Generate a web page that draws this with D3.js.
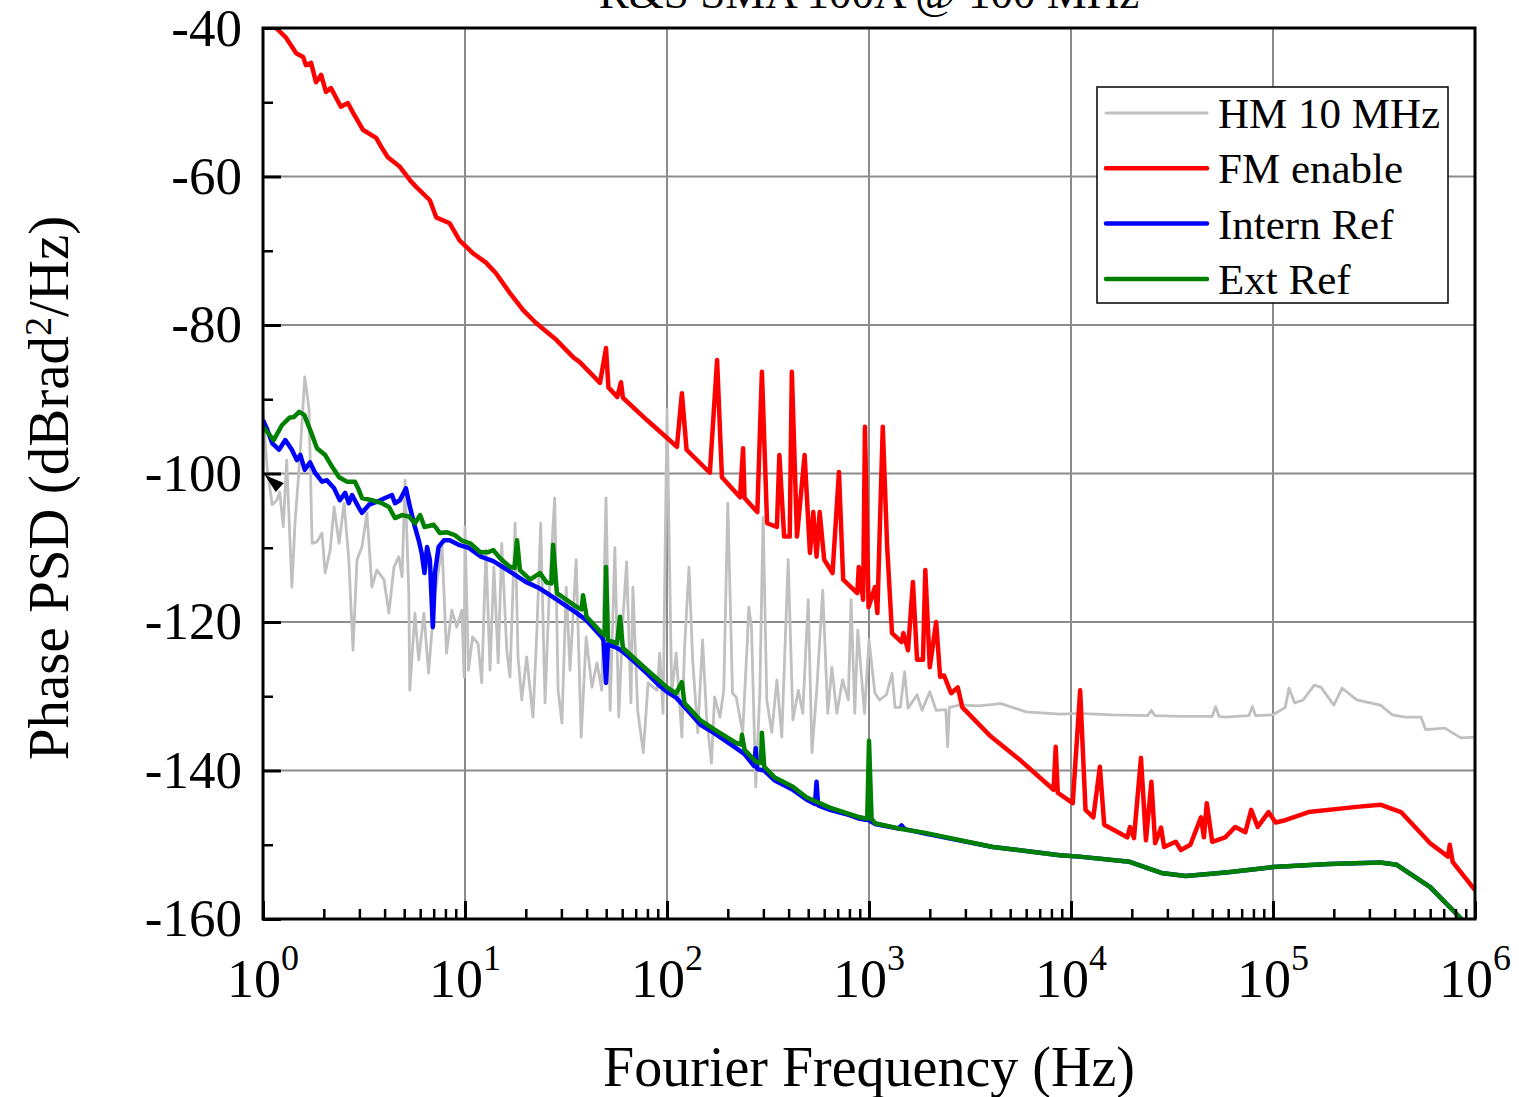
<!DOCTYPE html>
<html>
<head>
<meta charset="utf-8">
<script src="https://cdn.jsdelivr.net/npm/d3@7"></script>
<style>
  body { margin: 0; background: #fff; }
  svg { display: block; font-family: "Liberation Serif", "Times New Roman", serif; }
  .tick line { stroke: #000; }
</style>
</head>
<body>
<svg id="chart"></svg>
<script>
// series: [frequency (Hz), phase PSD (dBrad^2/Hz)]
const seriesNames = ["HM 10 MHz", "FM enable", "Intern Ref", "Ext Ref"];
const seriesColors = ["#c0c0c0", "#ff0000", "#0000ff", "#008000"];

const hm10 = [
  [1.0,-91.9],[1.05,-99.5],[1.11,-104.2],[1.17,-103.6],[1.21,-102.5],[1.26,-107.2],[1.31,-98.2],[1.39,-115.3],
  [1.44,-106.7],[1.52,-98.2],[1.61,-87.0],[1.69,-91.4],[1.75,-109.4],[1.85,-109.2],[1.96,-108.0],[2.03,-113.4],
  [2.15,-110.3],[2.25,-104.5],[2.38,-109.4],[2.52,-104.0],[2.66,-111.6],[2.79,-123.8],[2.92,-111.6],[3.09,-109.9],
  [3.27,-105.3],[3.46,-115.3],[3.66,-113.0],[3.97,-114.3],[4.2,-118.8],[4.45,-112.6],[4.7,-111.2],[4.88,-113.9],
  [5.05,-100.9],[5.27,-116.1],[5.33,-129.2],[5.65,-118.8],[5.9,-125.1],[6.26,-118.8],[6.6,-126.9],[7.1,-116.1],
  [7.7,-109.9],[8.1,-124.2],[8.6,-118.4],[9.1,-120.7],[9.65,-118.4],[9.9,-127.4],[10.0,-107.2],[10.4,-126.5],
  [10.9,-122],[11.6,-122.9],[12.1,-128.2],[12.7,-110.3],[13.3,-126.5],[13.9,-112.6],[14.6,-125.5],[15.2,-109.4],
  [16.1,-123.8],[16.7,-127.4],[17.7,-106.7],[18.3,-124.7],[19.1,-130.5],[20.2,-124.7],[21.7,-132.8],[22.7,-121.1],
  [23.7,-106.7],[24.9,-130.9],[26.2,-115.3],[27.8,-103.3],[28.9,-129.2],[30.2,-133.6],[31.7,-115.3],[33.1,-126.5],
  [35.5,-111.6],[37.6,-135.5],[39.8,-122],[42.5,-128.8],[45,-125.5],[47.5,-129.2],[49.9,-103.3],[52.3,-131.9],
  [55.2,-110.0],[57.7,-132.8],[60.5,-119.7],[63.1,-111.9],[66.3,-130.9],[67.8,-115.3],[71.6,-131.9],[76.3,-137.6],
  [80.6,-128.2],[89.4,-129.2],[92,-124.2],[95.6,-132.3],[100,-91.4],[105.5,-129.6],[111,-124.2],[118.5,-135.5],
  [122,-123.8],[128.5,-112.6],[134,-125.1],[142,-134.9],[150,-122.4],[157,-132.8],[166,-139],[172,-130.1],
  [183,-132.8],[191,-129.2],[200,-104],[211,-129.6],[220,-130.1],[237,-134.9],[250,-122.4],[254,-118],
  [262,-120.7],[275,-142.2],[288,-129.6],[299,-105.9],[312,-130.5],[330,-134.9],[350,-127.8],[370,-135.5],
  [398,-111.6],[420,-133.2],[447,-129.2],[470,-132.3],[500,-117],[522,-137.6],[551,-129.2],[590,-115.7],
  [625,-132.3],[655,-126.1],[693,-132.3],[740,-127.8],[790,-130.5],[815,-117],[850,-132.3],[880,-121.1],
  [950,-132.3],[1000,-122.4],[1070,-129.6],[1130,-130.5],[1220,-129.8],[1300,-126.9],[1345,-131.5],[1430,-131.5],
  [1500,-126.7],[1560,-131.6],[1730,-129.8],[1830,-131.9],[2000,-129.4],[2150,-131.9],[2400,-131.8],[2450,-136.8],
  [2500,-131.5],[2800,-131.2],[3500,-131.3],[4500,-131],[6000,-132.1],[8800,-132.4],[11000,-132.3],[16000,-132.5],
  [24000,-132.6],[25000,-131.9],[26000,-132.6],[35000,-132.7],[50000,-132.7],[52000,-131.4],[54000,-132.7],
  [58000,-132.8],[76000,-132.6],[79000,-131.4],[82000,-132.6],[100000,-132.5],[115000,-131.5],[120000,-128.9],
  [128000,-130.9],[141000,-130.5],[160000,-128.5],[173000,-128.8],[200000,-131.2],[220000,-128.9],[260000,-130.5],
  [340000,-131.2],[390000,-132.5],[450000,-132.8],[540000,-132.8],[570000,-134.5],[710000,-134.3],[850000,-135.6],
  [1000000,-135.5]
];

const fmEnable = [
  [1,-38.3],[1.16,-40],[1.30,-41.3],[1.46,-43.4],[1.58,-43.9],[1.63,-45],[1.73,-44.7],[1.83,-47.3],[1.94,-46.3],
  [2.05,-48.6],[2.17,-48.1],[2.43,-50.6],[2.63,-50.1],[2.79,-51.4],[3.12,-53.7],[3.63,-54.8],[3.93,-56.4],
  [4.15,-57.4],[4.76,-58.7],[5.34,-60.5],[5.73,-61.4],[6.7,-63.2],[7.2,-65.5],[8.4,-66.3],[9.4,-68.6],
  [10.9,-70.3],[12.7,-71.6],[14.2,-73],[16.7,-75.7],[19.4,-78],[22.4,-79.7],[28.3,-82],[34.2,-84.3],[37,-85],
  [46.6,-87.8],[49.9,-83.1],[51.3,-88.4],[56.7,-89.7],[59.2,-87.7],[60.5,-89.8],[79.5,-92.8],[112,-96.4],
  [118.5,-89.2],[125,-96.8],[163,-99.9],[177,-84.7],[187,-100.5],[230,-103.2],[238,-96.6],[242,-103.3],
  [280,-105.2],[295,-86.3],[313,-106.7],[350,-107.2],[360,-97.5],[380,-108.5],[405,-108.5],[415,-86.3],
  [440,-108.5],[480,-97.5],[510,-110.7],[530,-105.2],[550,-111.2],[570,-105.2],[600,-111.6],[660,-113.4],
  [710,-99.8],[745,-114.3],[875,-116.1],[890,-112.6],[935,-117],[955,-93.7],[995,-118],[1070,-115.3],
  [1100,-118.8],[1170,-93.7],[1230,-109.9],[1300,-121.5],[1450,-122.7],[1480,-121.5],[1560,-123.8],
  [1650,-114.6],[1730,-125.1],[1850,-125.1],[1900,-113],[2000,-126.1],[2150,-120],[2250,-127.4],[2350,-127.2],
  [2550,-129.6],[2750,-128.8],[2900,-131.5],[4000,-135.4],[5600,-138.6],[8200,-142.6],[8400,-136.8],[8600,-143],
  [10200,-144.4],[11100,-129.2],[11800,-145.3],[12900,-146.3],[13900,-139.5],[14600,-147.3],[19000,-149],
  [19600,-147.6],[20500,-149.1],[22200,-138.3],[23500,-149.4],[25000,-141.5],[26100,-149.8],[27900,-147.7],
  [28900,-150.3],[33000,-149.6],[35000,-150.7],[39000,-150],[44000,-146.3],[45500,-149],[47000,-144.4],
  [50000,-149.6],[58000,-149],[65000,-147.6],[73000,-148.3],[78000,-145.3],[84000,-147.6],[95000,-145.6],
  [103000,-147],[115000,-146.7],[150000,-145.6],[260000,-144.9],[340000,-144.6],[430000,-145.6],[600000,-149.8],
  [735000,-151.6],[750000,-150],[775000,-152.3],[1000000,-156.1]
];

const internRef = [
  [1,-92.8],[1.05,-94.1],[1.11,-95.9],[1.2,-96.8],[1.29,-95.5],[1.39,-96.8],[1.47,-98.2],[1.53,-97.5],
  [1.61,-99.5],[1.71,-98.5],[1.81,-99.9],[1.96,-101.1],[2.07,-100.9],[2.25,-102],[2.4,-103.6],[2.55,-102.6],
  [2.66,-104],[2.76,-102.9],[2.98,-104.6],[3.09,-105.3],[3.35,-104.2],[3.67,-103.8],[4.02,-103.3],[4.35,-102.9],
  [4.5,-104],[4.76,-103.6],[5.1,-102],[5.34,-104.5],[5.65,-107.2],[5.9,-109],[6.1,-110.7],[6.3,-113.4],
  [6.49,-109.9],[6.7,-111.6],[6.93,-120.7],[7.1,-113.4],[7.4,-109.9],[7.86,-109],[8.4,-109],[9.3,-109.6],
  [10.4,-110],[12,-111.2],[13.8,-111.8],[16.7,-113.2],[20,-114.6],[23.5,-115.5],[28.5,-117],[35.8,-118.8],
  [40,-119.8],[47.5,-122],[48.5,-122.5],[49.9,-128.2],[51,-123],[56.6,-123.5],[60.5,-124],[70,-125.5],
  [80,-127],[92,-128.6],[100,-129.4],[111,-130.2],[122,-131.4],[146,-133.8],[172,-135],[220,-137],[242,-137.8],
  [270,-139.4],[275,-137],[280,-139.8],[303,-140],[340,-141.3],[420,-142.6],[490,-143.9],[540,-144.5],
  [550,-141.5],[560,-144.7],[640,-145.3],[800,-146],[900,-146.5],[1000,-146.7],[1070,-147.2],[1400,-147.8],
  [1450,-147.4],[1500,-147.9],[1900,-148.5],[4100,-150.3],[8800,-151.4],[11000,-151.6],[19500,-152.3],
  [28000,-153.8],[37000,-154.2],[60000,-153.7],[100000,-153],[190000,-152.6],[340000,-152.4],[410000,-152.7],
  [600000,-155.7],[850000,-159.9],[1000000,-162]
];

const extRef = [
  [1,-93.7],[1.13,-95.5],[1.24,-93.5],[1.35,-92.5],[1.42,-92.4],[1.51,-91.7],[1.6,-92.1],[1.71,-94.1],
  [1.85,-96.6],[2.03,-97.5],[2.2,-99.1],[2.38,-100.5],[2.6,-101.1],[2.85,-101.1],[2.98,-102.2],[3.09,-103.3],
  [3.46,-103.6],[3.88,-104],[4.2,-104.5],[4.5,-106],[4.88,-105.6],[5.28,-105.8],[5.65,-106.7],[6.0,-105.6],
  [6.3,-107.2],[7.0,-106.9],[7.5,-108],[8.1,-107.9],[8.9,-108.3],[9.6,-109],[10.6,-109.4],[11.9,-110.6],
  [13,-110.6],[13.8,-110.3],[14.9,-111.4],[16.7,-112.6],[17.6,-112.7],[18.1,-109],[18.7,-113],[21,-114.3],
  [23.5,-113.4],[25.4,-114.7],[26.8,-114.8],[27.3,-109.6],[28.5,-116.1],[35.8,-118],[37.8,-118.3],[38.4,-116.4],
  [40,-119.3],[47.5,-121.5],[49.2,-121.8],[49.9,-112.6],[51,-122.4],[56.6,-122.9],[58.5,-119.3],[60.5,-123.5],
  [80,-126.5],[100,-128.8],[111,-129.6],[118.5,-128.1],[122,-130.9],[146,-133.2],[172,-134.5],[220,-136.3],
  [233,-136.5],[235,-135.2],[242,-137.2],[278,-138.9],[292,-139],[295,-134.9],[303,-139.5],[340,-140.9],
  [420,-142.2],[490,-143.6],[640,-145],[900,-146.3],[980,-146.5],[1000,-136],[1030,-146.5],[1070,-147.1],
  [1400,-147.8],[1900,-148.4],[4100,-150.3],[8800,-151.4],[11000,-151.6],[19500,-152.3],[28000,-153.8],
  [37000,-154.2],[60000,-153.7],[100000,-153],[190000,-152.6],[340000,-152.4],[410000,-152.7],[600000,-155.7],
  [850000,-159.9],[1000000,-162]
];

const xDecades = [1, 10, 100, 1000, 10000, 100000, 1000000];
const yMajor = [-160, -140, -120, -100, -80, -60, -40];
const yMinor = [-150, -130, -110, -90, -70, -50];

const viewWidth = 1519, viewHeight = 1097;
const margin = { top: 28, right: 44, bottom: 178, left: 263 };
const width = viewWidth - margin.left - margin.right;
const height = viewHeight - margin.top - margin.bottom;

const root = d3.select("#chart")
  .attr("width", viewWidth)
  .attr("height", viewHeight);

root.append("defs").append("clipPath").attr("id", "plotClip")
  .append("rect").attr("width", width).attr("height", height);

const svg = root.append("g")
  .attr("transform", "translate(" + margin.left + "," + margin.top + ")");

const x = d3.scaleLog().domain([1, 1e6]).range([0, width]);
const y = d3.scaleLinear().domain([-160, -40]).range([height, 0]);

// grid
svg.append("g")
  .selectAll("line")
  .data(xDecades.slice(1, -1))
  .join("line")
  .attr("x1", d => x(d)).attr("x2", d => x(d))
  .attr("y1", 0).attr("y2", height)
  .attr("stroke", "#8c8c8c").attr("stroke-width", 2);

svg.append("g")
  .selectAll("line")
  .data(yMajor.slice(1, -1))
  .join("line")
  .attr("x1", 0).attr("x2", width)
  .attr("y1", d => y(d)).attr("y2", d => y(d))
  .attr("stroke", "#8c8c8c").attr("stroke-width", 2);

// data lines
const line = d3.line()
  .x(d => x(d[0]))
  .y(d => y(d[1]));

const plot = svg.append("g").attr("clip-path", "url(#plotClip)");
const allSeries = [hm10, fmEnable, internRef, extRef];
const widths = [2.8, 4.5, 4.5, 4.5];
allSeries.forEach(function (s, i) {
  plot.append("path")
    .datum(s)
    .attr("fill", "none")
    .attr("stroke", seriesColors[i])
    .attr("stroke-width", widths[i])
    .attr("stroke-linejoin", "round")
    .attr("d", line);
});

// small arrow marker near 1 Hz
const ax = x(1.02), ay = y(-100.2);
svg.append("path")
  .attr("d", "M" + ax + "," + ay + " L" + (ax + 19) + "," + (ay + 8) + " L" + (ax + 11) + "," + (ay + 17) + " Z")
  .attr("fill", "#000");

// ticks (inward)
const xMinor = [];
xDecades.slice(0, -1).forEach(function (d) {
  for (let k = 2; k <= 9; k++) xMinor.push(d * k);
});

const xMajorAxis = svg.append("g")
  .attr("transform", "translate(0," + height + ")")
  .call(d3.axisBottom(x).tickValues(xDecades).tickSize(-18).tickFormat(""));
const xMinorAxis = svg.append("g")
  .attr("transform", "translate(0," + height + ")")
  .call(d3.axisBottom(x).tickValues(xMinor).tickSize(-10).tickFormat(""));
const yMajorAxis = svg.append("g")
  .call(d3.axisLeft(y).tickValues(yMajor).tickSize(-18).tickFormat(""));
const yMinorAxis = svg.append("g")
  .call(d3.axisLeft(y).tickValues(yMinor).tickSize(-10).tickFormat(""));

[xMajorAxis, xMinorAxis, yMajorAxis, yMinorAxis].forEach(function (g, i) {
  g.select(".domain").remove();
  g.selectAll(".tick line").attr("stroke-width", i % 2 === 0 ? 3 : 2.5);
});

// frame
svg.append("rect")
  .attr("width", width).attr("height", height)
  .attr("fill", "none").attr("stroke", "#000").attr("stroke-width", 3);

// tick labels
svg.append("g")
  .selectAll("text")
  .data(xDecades)
  .join("text")
  .attr("x", d => x(d))
  .attr("y", height + 78)
  .attr("text-anchor", "middle")
  .style("font-size", "54px")
  .each(function (d) {
    const t = d3.select(this);
    t.append("tspan").text("10");
    t.append("tspan").attr("dy", "-0.75em").style("font-size", "36px").text(Math.round(Math.log10(d)));
  });

svg.append("g")
  .selectAll("text")
  .data(yMajor)
  .join("text")
  .attr("x", -21)
  .attr("y", d => y(d))
  .attr("dy", "0.33em")
  .attr("text-anchor", "end")
  .style("font-size", "53px")
  .text(d => d);

// axis titles
svg.append("text")
  .attr("x", width / 2)
  .attr("y", height + 167)
  .attr("text-anchor", "middle")
  .style("font-size", "56px")
  .text("Fourier Frequency (Hz)");

const yTitle = svg.append("text")
  .attr("transform", "translate(" + (68 - margin.left) + "," + (488 - margin.top) + ") rotate(-90)")
  .attr("text-anchor", "middle")
  .style("font-size", "57px");
yTitle.append("tspan").text("Phase PSD (dBrad");
yTitle.append("tspan").attr("dy", "-0.45em").style("font-size", "38px").text("2");
yTitle.append("tspan").attr("dy", "0.3em").text("/Hz)");

// chart title (cut off at the top)
svg.append("text")
  .attr("x", width / 2)
  .attr("y", 8 - margin.top)
  .attr("text-anchor", "middle")
  .style("font-size", "45px")
  .text("R&S SMA 100A @ 100 MHz");

// legend
const legend = svg.append("g")
  .attr("transform", "translate(" + (1097 - margin.left) + "," + (87 - margin.top) + ")");
legend.append("rect")
  .attr("width", 351).attr("height", 216)
  .attr("fill", "#fff").attr("stroke", "#000").attr("stroke-width", 1.5);
seriesNames.forEach(function (name, i) {
  const ly = 26 + i * 55.3;
  legend.append("line")
    .attr("x1", 9).attr("x2", 110)
    .attr("y1", ly).attr("y2", ly)
    .attr("stroke", seriesColors[i])
    .attr("stroke-width", i === 0 ? 3 : 4.5)
    .attr("stroke-linecap", "round");
  legend.append("text")
    .attr("x", 121).attr("y", ly + 15)
    .style("font-size", "43px")
    .text(name);
});
</script>
</body>
</html>
